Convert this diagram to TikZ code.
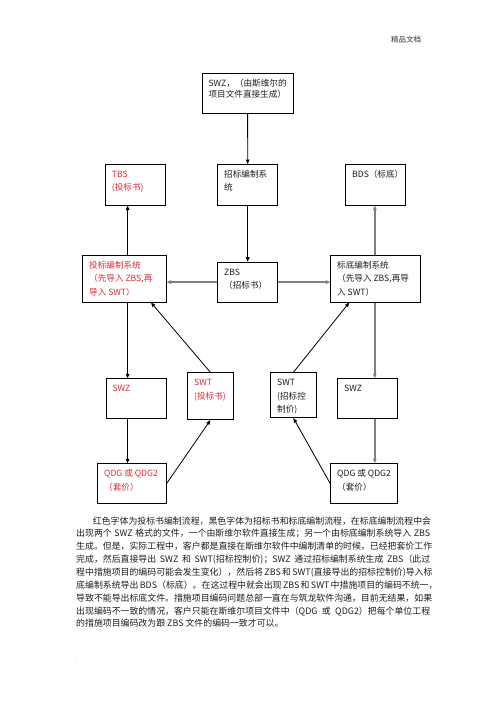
\documentclass[tikz,border=0pt]{standalone}
\usepackage{fontspec}
\setmainfont{Noto Sans CJK SC}
\usetikzlibrary{arrows.meta}
\definecolor{redt}{RGB}{228,40,48}
\definecolor{arrgray}{RGB}{128,128,128}
\definecolor{txt}{RGB}{30,30,30}
\newcommand\bxt[4]{\begin{minipage}[c][#2pt][t]{#1pt}\fontsize{8.6}{#3}\selectfont\parindent=0pt\leftskip=6.5pt\vspace*{5.4pt}\rule{0pt}{7.6pt}#4\end{minipage}}
\begin{document}
\begin{tikzpicture}[x=1pt,y=-1pt,
  bx/.style={draw=black, line width=0.8pt, inner sep=0pt, anchor=north west, text=txt},
  rbx/.style={bx, text=redt},
  arr/.style={-{Triangle[length=4.5pt,width=3.6pt]}, line width=0.8pt, black},
  garr/.style={-{Triangle[length=4.5pt,width=3.6pt]}, line width=1.5pt, arrgray}]
\useasboundingbox (0,0) rectangle (496,702);
\fill[white] (0,0) rectangle (496,702);

\node[font=\fontsize{7.5}{9}\selectfont, text=black!80] (hdr) at (406,40) {精品文档};

% boxes
\node[bx] (swz0) at (201.7,73.3) {\bxt{91}{40}{11}{SWZ，（由斯维尔的\\项目文件直接生成）}};
\node[rbx] (tbs) at (105,164) {\bxt{60.3}{40.7}{13.4}{TBS\\(投标书)}};
\node[bx] (zbsys) at (217.3,164) {\bxt{60}{40.7}{13.4}{招标编制系\\统}};
\node[bx] (bds) at (345.3,164) {\bxt{60}{40.7}{13.4}{BDS（标底）}};
\node[rbx] (tbsys) at (82.3,255) {\bxt{83.4}{46.7}{13.4}{投标编制系统\\（先导入 ZBS,再\\导入 SWT）}};
\node[bx] (zbs) at (217.3,261.7) {\bxt{60}{40}{13.4}{ZBS\\（招标书）}};
\node[bx] (bdsys) at (330.3,255) {\bxt{90}{46.7}{13.4}{标底编制系统\\（先导入 ZBS,再导\\入 SWT）}};
\node[rbx] (swzl) at (105.7,378.3) {\bxt{60}{40}{13.4}{SWZ}};
\node[rbx] (swtl) at (187.3,372.3) {\bxt{45.4}{47}{13.4}{SWT\\(投标书)}};
\node[bx] (swtr) at (270.3,372.3) {\bxt{45.4}{45}{13.4}{SWT\\(招标控\\制价)}};
\node[bx] (swzr) at (337.3,378.3) {\bxt{60}{40}{13.4}{SWZ}};
\node[rbx] (qdgl) at (97.3,463.3) {\bxt{68.4}{40}{13.4}{QDG 或 QDG2\\（套价）}};
\node[bx] (qdgr) at (330.3,463.3) {\bxt{67}{40}{13.4}{QDG 或 QDG2\\（套价）}};

% helper columns
\coordinate (cl) at (127.6,0);
\coordinate (cr) at (374.8,0);
\coordinate (ca) at (151,0);
\coordinate (cb) at (349.3,0);

% connectors
\draw[arr] (swz0.south) -- (zbsys.north);
\draw[arr] (zbsys.south) -- (zbs.north);
\draw[garr] (zbs.west) -- (zbs.west -| tbsys.east);
\draw[garr] (zbs.east) -- (zbs.east -| bdsys.west);
\draw[arr] (tbsys.north -| cl) -- (tbs.south -| cl);
\draw[arr] (tbsys.south -| cl) -- (swzl.north -| cl);
\draw[arr] (swzl.south -| cl) -- (qdgl.north -| cl);
\draw[garr] (bdsys.north -| cr) -- (bds.south -| cr);
\draw[garr] (bdsys.south -| cr) -- (swzr.north -| cr);
\draw[garr] (swzr.south -| cr) -- (qdgr.north -| cr);
\draw[arr] (swtl.north) -- (tbsys.south -| ca);
\draw[arr] (swtr.north) -- (bdsys.south -| cb);
\draw[arr] (qdgl.east) -- (swtl.south);
\draw[arr] (qdgr.west) -- (swtr.south);

% paragraph
\node[anchor=base west, inner sep=0pt, text=txt] (para) at (76,524.1) {\begin{minipage}[t]{354pt}\fontsize{8.9}{12.85}\selectfont\XeTeXlinebreaklocale "zh"\XeTeXlinebreakskip=0pt plus 2pt minus 0.5pt\parindent=0pt
\hspace*{16.7pt}\makebox[337.3pt][s]{红色字体为投标书编制流程，黑色字体为招标书和标底编制流程，在标底编制流程中会}\\
\makebox[354pt][s]{出现两个 SWZ 格式的文件，一个由斯维尔软件直接生成；另一个由标底编制系统导入 ZBS}\\
\makebox[354pt][s]{生成。但是，实际工程中，客户都是直接在斯维尔软件中编制清单的时候，已经把套价工作}\\
\makebox[354pt][s]{完成，然后直接导出 SWZ 和 SWT(招标控制价)；SWZ 通过招标编制系统生成 ZBS（此过}\\
\makebox[354pt][s]{程中措施项目的编码可能会发生变化），然后将 ZBS 和 SWT(直接导出的招标控制价)导入标}\\
\makebox[354pt][s]{底编制系统导出 BDS（标底）。在这过程中就会出现 ZBS 和 SWT 中措施项目的编码不统一，}\\
\makebox[354pt][s]{导致不能导出标底文件。措施项目编码问题总部一直在与筑龙软件沟通，目前无结果，如果}\\
\makebox[354pt][s]{出现编码不一致的情况，客户只能在斯维尔项目文件中（QDG 或 QDG2）把每个单位工程}\\
的措施项目编码改为跟 ZBS 文件的编码一致才可以。
\end{minipage}};

\node[anchor=base, font=\fontsize{6}{7}\selectfont, text=black!45, inner sep=0pt] (dot) at (76,658) {.};
\end{tikzpicture}
\end{document}
